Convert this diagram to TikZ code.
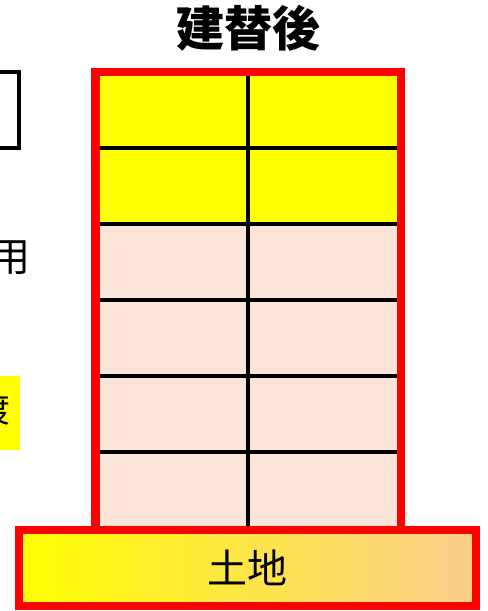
\documentclass[tikz,border=0pt]{standalone}
\usepackage{fontspec}
\newfontfamily\jpfont{Noto Sans CJK JP}
\definecolor{roofYellow}{HTML}{FFFF00}
\definecolor{floorPink}{HTML}{FDE4D8}
\definecolor{landPeach}{HTML}{FDCB8E}
\definecolor{frameRed}{HTML}{FF0000}
\usetikzlibrary{positioning}

\begin{document}
\begin{tikzpicture}[x=0.75pt, y=-0.75pt,
   frame/.style={draw=frameRed, line width=6.5pt, line join=miter},
   gridline/.style={black, line width=3pt},
   jptext/.style={font=\jpfont\fontsize{30}{34}\selectfont}]
   \useasboundingbox (0,0) rectangle (488,611);
   \clip (0,0) rectangle (488,611);
   % Cut-off items on the left edge
   \draw[line width=3pt] (-80,72) rectangle (18.7,147.5);
   \node[jptext, anchor=east, inner sep=0pt] (use) at (31,258) {用};
   \fill[roofYellow] (-80,376) rectangle (20,450);
   \node[jptext, anchor=east, inner sep=0pt, font=\jpfont\fontsize{26}{30}\selectfont] (transfer) at (10,409) {渡};
   % Title
   \node[font=\jpfont\bfseries\fontsize{36}{40}\selectfont] (title) at (248,28) {建替後};
   % Floors: two yellow on top, four pink below
   \foreach \f in {0,...,5} {
      \pgfmathsetmacro{\top}{72+76*\f}
      \ifnum\f<2
         \fill[roofYellow] (95,\top) rectangle (401,\top+76);
      \else
         \fill[floorPink] (95,\top) rectangle (401,\top+76);
      \fi
   }
   % Grid lines
   \foreach \y in {148,224,300,376,452}
      \draw[gridline] (100,\y) -- (397,\y);
   \draw[gridline] (248,76) -- (248,528);
   % Building frame
   \draw[frame] (95.5,535) -- (95.5,72) -- (401,72) -- (401,535);
   % Land
   \node[frame, left color=roofYellow, right color=landPeach,
      minimum width=342.75pt, minimum height=57pt, inner sep=0pt,
      jptext] (land) at (247.5,568) {土地};
\end{tikzpicture}
\end{document}
